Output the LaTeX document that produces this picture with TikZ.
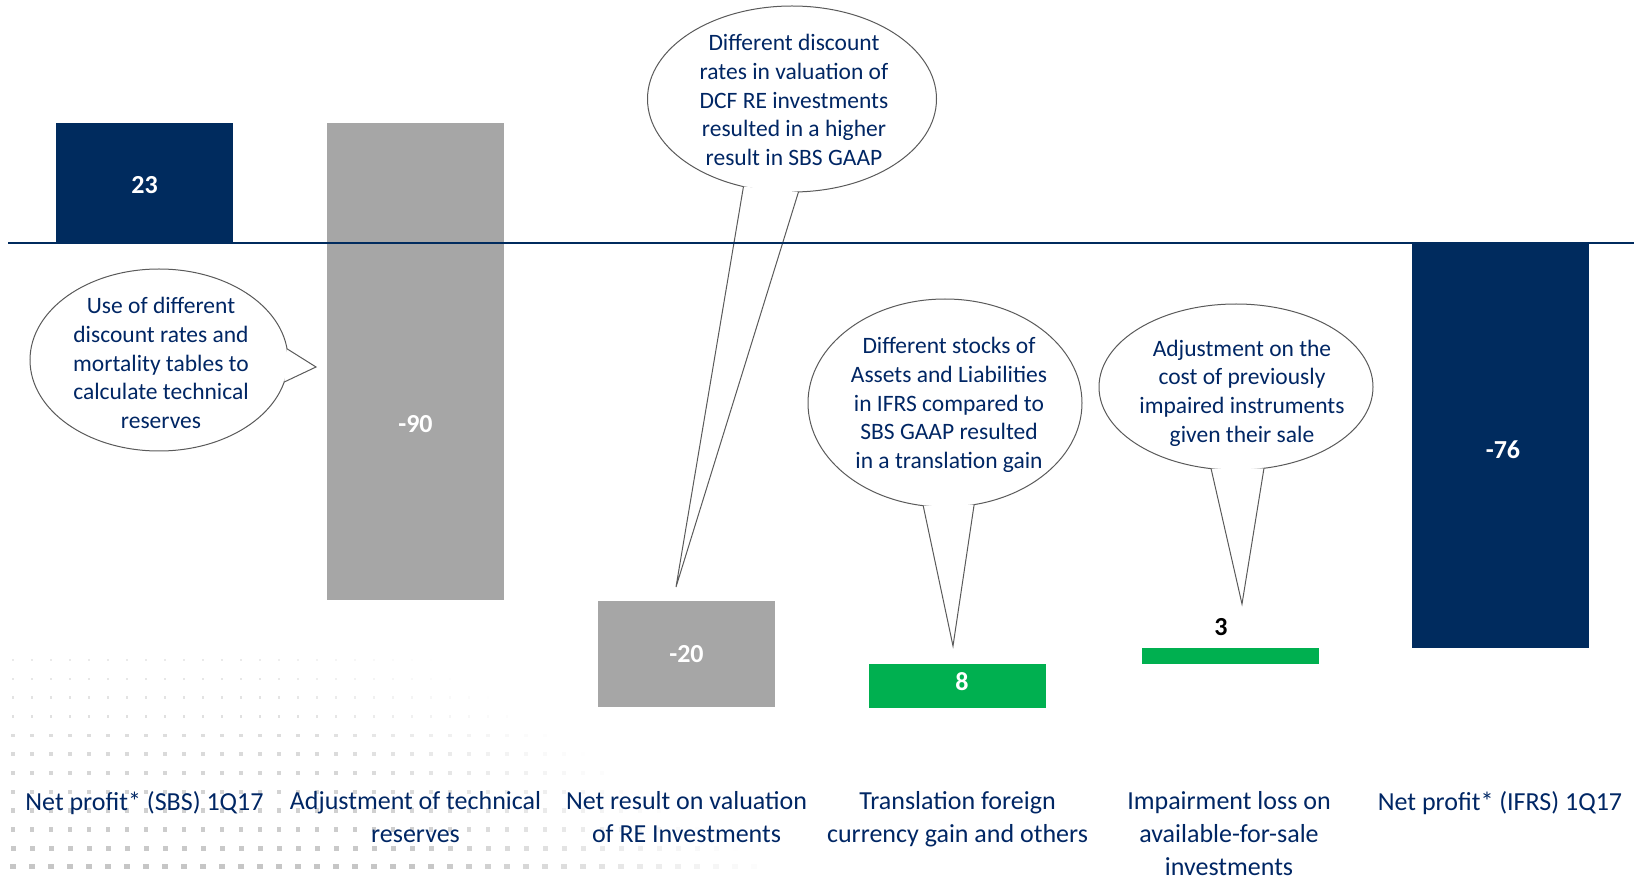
\documentclass[tikz,border=0pt]{standalone}
\usepackage{fontspec}
\setmainfont{Carlito}
\usetikzlibrary{shapes.geometric}
\definecolor{navy}{RGB}{0,43,94}
\definecolor{txtnavy}{RGB}{0,38,100}
\definecolor{bargray}{RGB}{166,166,166}
\definecolor{bargreen}{RGB}{0,176,80}
\definecolor{bubbleline}{RGB}{90,90,90}
\definecolor{dotgray}{RGB}{195,195,195}
\begin{document}
\begin{tikzpicture}[x=1pt,y=-1pt,
  barbox/.style={rectangle,draw=none,inner sep=0,outer sep=0,minimum width=177pt,
    text=white,font=\fontsize{26}{30}\selectfont\bfseries},
  barval/.style={inner sep=0,font=\fontsize{26}{30}\selectfont\bfseries},
  bubble/.style={ellipse,draw=bubbleline,line width=1pt,fill=white,inner sep=0,outer sep=0},
  pointerfill/.style={fill=white},
  pointerline/.style={draw=bubbleline,line width=1pt,line join=miter},
  bubbletxt/.style={align=center,text=txtnavy,inner sep=0,font=\fontsize{23.5}{28.7}\selectfont},
  catlabel/.style={anchor=north,align=center,text=txtnavy,inner sep=0,font=\fontsize{26}{33}\selectfont},
  axisline/.style={draw=navy,line width=2pt}]
\useasboundingbox (0,0) rectangle (1634,882);

% decorative dotted background
\foreach \i in {0,...,12}{
  \foreach \j in {0,...,42}{
    \pgfmathsetmacro\yy{660+18.8*\i}
    \pgfmathsetmacro\xx{13+19*\j}
    \pgfmathsetmacro\lim{440+30*\i}
    \pgfmathsetmacro\op{max(0,min(1,2.2*(1-\xx/\lim)))*(0.35+0.055*\i)}
    \pgfmathsetmacro\sz{2+0.3*\i}
    \fill[dotgray,opacity=\op] (\xx-\sz/2,\yy-\sz/2) rectangle ++(\sz,\sz);
  }
}

% bars
\node[barbox,fill=navy,minimum height=120pt] (b1) at (144.5,183) {};
\node[barbox,fill=bargray,minimum height=477pt] (b2) at (415.5,361.5) {};
\node[barbox,fill=bargray,minimum height=106pt] (b3) at (686.5,654) {-20};
\node[barbox,fill=bargreen,minimum height=44pt] (b4) at (957.5,686) {};
\node[barbox,fill=bargreen,minimum height=16pt] (b5) at (1230.5,656) {};
\node[barbox,fill=navy,minimum height=404pt] (b6) at (1500,446) {};
\node[barval,text=white] (v1) at (144.5,185) {23};
\node[barval,text=white] (v2) at (415.5,424) {-90};
\node[barval,text=white] (v4) at (962,682) {8};
\node[barval,text=black] (v5) at (1221,627) {3};
\node[barval,text=white] (v6) at (1503,450) {-76};

% bubbles
\node[bubble,minimum width=258pt,minimum height=182pt] (e1) at (159,360) {};
\coordinate (t1) at (316,367);
\fill[pointerfill] (e1.5) -- (t1) -- (e1.-10.7) -- cycle;
\draw[pointerline] (e1.5) -- (t1) -- (e1.-10.7);
\node[bubbletxt] (x1) at (161,363) {Use of different\\discount rates and\\mortality tables to\\calculate technical\\reserves};

\node[bubble,minimum width=289pt,minimum height=186pt] (e2) at (792,99) {};
\coordinate (t2) at (676,587);
\fill[pointerfill] (e2.-119.5) -- (t2) -- (e2.-86.2) -- cycle;
\draw[pointerline] (e2.-119.5) -- (t2) -- (e2.-86.2);
\node[bubbletxt] (x2) at (794,100) {Different discount\\rates in valuation of\\DCF RE investments\\resulted in a higher\\result in SBS GAAP};

\node[bubble,minimum width=274pt,minimum height=208pt] (e3) at (945,403) {};
\coordinate (t3) at (953,646);
\fill[pointerfill] (e3.-102.7) -- (t3) -- (e3.-74) -- cycle;
\draw[pointerline] (e3.-102.7) -- (t3) -- (e3.-74);
\node[bubbletxt] (x3) at (949,405) {Different stocks of\\Assets and Liabilities\\in IFRS compared to\\SBS GAAP resulted\\in a translation gain};

\node[bubble,minimum width=274pt,minimum height=166pt] (e4) at (1236,387) {};
\coordinate (t4) at (1242,604);
\fill[pointerfill] (e4.-107.6) -- (t4) -- (e4.-71.6) -- cycle;
\draw[pointerline] (e4.-107.6) -- (t4) -- (e4.-71.6);
\node[bubbletxt] (x4) at (1242,393) {Adjustment on the\\cost of previously\\impaired instruments\\given their sale};

% axis
\coordinate (axl) at (8,243);
\coordinate (axr) at (1634,243);
\draw[axisline] (axl) -- (axr);

% category labels
\node[catlabel] (l1) at (144.5,791) {Net profit* (SBS) 1Q17};
\node[catlabel] (l2) at (415.5,791) {Adjustment of technical\\reserves};
\node[catlabel] (l3) at (686.5,791) {Net result on valuation\\of RE Investments};
\node[catlabel] (l4) at (957.5,791) {Translation foreign\\currency gain and others};
\node[catlabel] (l5) at (1229,791) {Impairment loss on\\available-for-sale\\investments};
\node[catlabel] (l6) at (1500,791) {Net profit* (IFRS) 1Q17};
\end{tikzpicture}
\end{document}
